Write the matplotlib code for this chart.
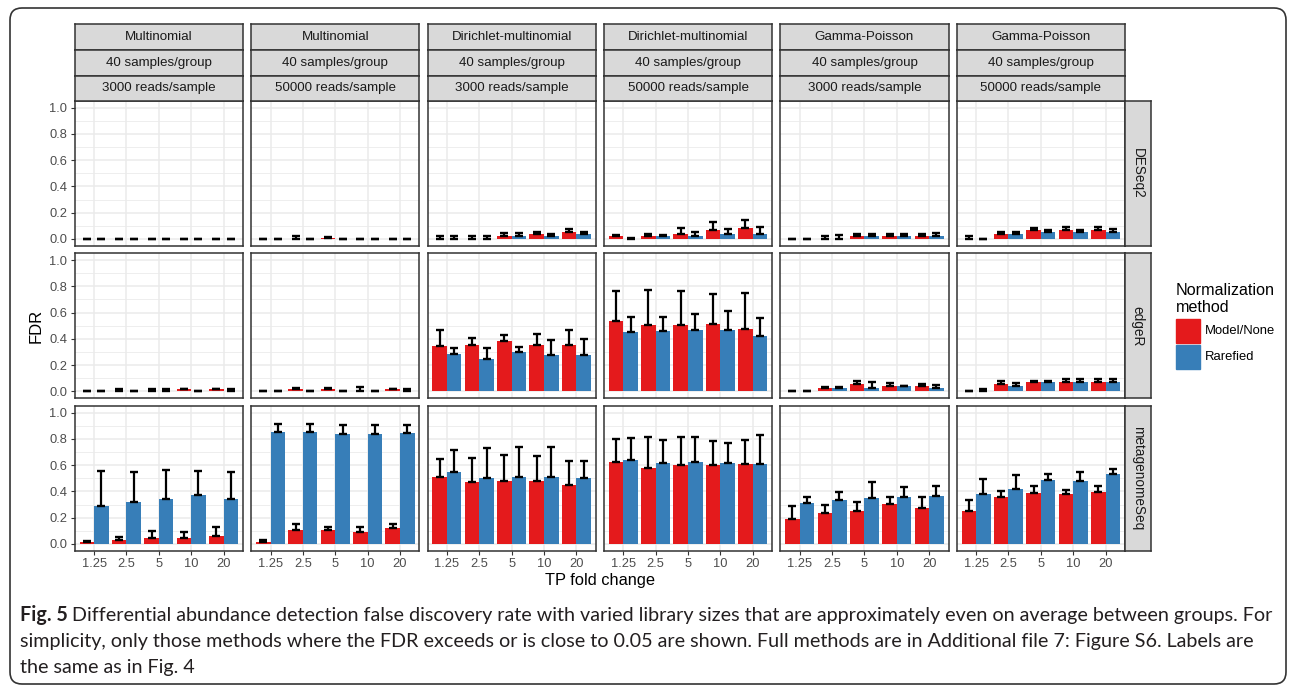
import numpy as np
import matplotlib
matplotlib.use("Agg")
import matplotlib.pyplot as plt
from matplotlib.patches import Rectangle, FancyBboxPatch

plt.rcParams["font.family"] = ["Liberation Sans", "DejaVu Sans"]

# ---- data ----
fold_changes = ["1.25", "2.5", "5", "10", "20"]
sim_models = ["Multinomial", "Multinomial", "Dirichlet-multinomial",
              "Dirichlet-multinomial", "Gamma-Poisson", "Gamma-Poisson"]
sample_sizes = ["40 samples/group"] * 6
read_depths = ["3000 reads/sample", "50000 reads/sample"] * 3
methods = ["DESeq2", "edgeR", "metagenomeSeq"]
norm_methods = ["Model/None", "Rarefied"]
norm_colors = ["#E41A1C", "#377EB8"]

# mean FDR and top of error bar (mean + sd), one list per panel column
deseq2_model_fdr = [[0, 0, 0, 0, 0], [0, 0.002, 0.005, 0, 0],
                    [0.002, 0.002, 0.02, 0.035, 0.05], [0.02, 0.02, 0.035, 0.066, 0.081],
                    [0, 0.002, 0.02, 0.02, 0.02], [0.002, 0.035, 0.066, 0.066, 0.066]]
deseq2_model_top = [[0.003] * 5, [0.003, 0.02, 0.012, 0.003, 0.003],
                    [0.025, 0.025, 0.045, 0.053, 0.076], [0.028, 0.04, 0.086, 0.131, 0.146],
                    [0.003, 0.025, 0.04, 0.04, 0.04], [0.025, 0.056, 0.086, 0.088, 0.088]]
deseq2_rare_fdr = [[0] * 5, [0] * 5,
                   [0.002, 0.002, 0.02, 0.02, 0.035], [0, 0.02, 0.02, 0.035, 0.035],
                   [0, 0.002, 0.02, 0.02, 0.02], [0, 0.035, 0.05, 0.05, 0.05]]
deseq2_rare_top = [[0.003] * 5, [0.003] * 5,
                   [0.025, 0.025, 0.045, 0.04, 0.053], [0.01, 0.033, 0.056, 0.078, 0.093],
                   [0.003, 0.03, 0.04, 0.04, 0.045], [0.003, 0.056, 0.071, 0.071, 0.076]]

edger_model_fdr = [[0, 0.001, 0.001, 0.02, 0.02], [0, 0.02, 0.02, 0.002, 0.02],
                   [0.344, 0.351, 0.382, 0.351, 0.351], [0.534, 0.504, 0.504, 0.511, 0.473],
                   [0, 0.023, 0.053, 0.038, 0.038], [0, 0.053, 0.069, 0.069, 0.069]]
edger_model_top = [[0.003, 0.02, 0.02, 0.022, 0.022], [0.003, 0.025, 0.025, 0.03, 0.022],
                   [0.468, 0.407, 0.43, 0.438, 0.468], [0.766, 0.774, 0.766, 0.743, 0.751],
                   [0.003, 0.036, 0.079, 0.064, 0.058], [0.003, 0.079, 0.079, 0.094, 0.092]]
edger_rare_fdr = [[0, 0, 0.001, 0, 0.001], [0, 0, 0, 0, 0.002],
                  [0.282, 0.244, 0.298, 0.275, 0.275], [0.45, 0.458, 0.466, 0.466, 0.42],
                  [0, 0.023, 0.023, 0.038, 0.023], [0.002, 0.038, 0.069, 0.069, 0.069]]
edger_rare_top = [[0.003, 0.003, 0.02, 0.003, 0.015], [0.003, 0.003, 0.003, 0.003, 0.02],
                  [0.331, 0.331, 0.338, 0.392, 0.4], [0.567, 0.567, 0.59, 0.613, 0.56],
                  [0.003, 0.036, 0.071, 0.043, 0.05], [0.018, 0.064, 0.079, 0.094, 0.094]]

mgs_model_fdr = [[0.015, 0.03, 0.046, 0.046, 0.061], [0.015, 0.107, 0.107, 0.092, 0.122],
                 [0.506, 0.468, 0.476, 0.476, 0.445], [0.621, 0.575, 0.598, 0.598, 0.606],
                 [0.193, 0.232, 0.247, 0.305, 0.277], [0.254, 0.354, 0.384, 0.382, 0.397]]
mgs_model_top = [[0.025, 0.056, 0.10, 0.092, 0.132], [0.03, 0.148, 0.132, 0.132, 0.148],
                 [0.646, 0.654, 0.677, 0.669, 0.631], [0.799, 0.814, 0.814, 0.784, 0.791],
                 [0.285, 0.293, 0.323, 0.361, 0.361], [0.331, 0.4, 0.438, 0.407, 0.438]]
mgs_rare_fdr = [[0.29, 0.32, 0.343, 0.374, 0.343], [0.855, 0.855, 0.84, 0.84, 0.847],
                [0.545, 0.499, 0.506, 0.506, 0.499], [0.636, 0.613, 0.621, 0.613, 0.606],
                [0.313, 0.338, 0.346, 0.359, 0.366], [0.382, 0.42, 0.489, 0.481, 0.534]]
mgs_rare_top = [[0.552, 0.545, 0.56, 0.552, 0.545], [0.911, 0.911, 0.903, 0.903, 0.903],
                [0.715, 0.73, 0.738, 0.738, 0.631], [0.807, 0.791, 0.814, 0.768, 0.83],
                [0.361, 0.392, 0.471, 0.43, 0.438], [0.491, 0.522, 0.529, 0.545, 0.567]]

caption_bold = "Fig. 5"
caption_lines = [
    "Differential abundance detection false discovery rate with varied library sizes that are approximately even on average between groups. For",
    "simplicity, only those methods where the FDR exceeds or is close to 0.05 are shown. Full methods are in Additional file 7: Figure S6. Labels are",
    "the same as in Fig. 4",
]

method_data = {
    "DESeq2": [(deseq2_model_fdr, deseq2_model_top), (deseq2_rare_fdr, deseq2_rare_top)],
    "edgeR": [(edger_model_fdr, edger_model_top), (edger_rare_fdr, edger_rare_top)],
    "metagenomeSeq": [(mgs_model_fdr, mgs_model_top), (mgs_rare_fdr, mgs_rare_top)],
}

# ---- layout (pixels) ----
W, H = 1290, 687
fig = plt.figure(figsize=(W / 100, H / 100), dpi=100)


def add_px_axes(x0, y0, x1, y1):
    return fig.add_axes([x0 / W, 1 - y1 / H, (x1 - x0) / W, (y1 - y0) / H])


# overlay in pixel coordinates for border, titles, legend, caption
bg = fig.add_axes([0, 0, 1, 1])
bg.set_xlim(0, W)
bg.set_ylim(H, 0)
bg.axis("off")
bg.add_patch(FancyBboxPatch((10, 8), 1276, 676, boxstyle="round,pad=0,rounding_size=12",
                            fill=False, ec="#333333", lw=1.2))

col_left, panel_w, col_step = 74.7, 168.3, 176.4
row_top, panel_h, row_step = 101, 144.5, 152.5
strip_edges = [24.3, 50, 76, 101]
strip_col = "#D9D9D9"
dark = "#333333"

x = np.arange(1, len(fold_changes) + 1)
bw = 0.45

for r, m in enumerate(methods):
    y0 = row_top + r * row_step
    for c in range(6):
        x0 = col_left + c * col_step
        ax = add_px_axes(x0, y0, x0 + panel_w, y0 + panel_h)
        for k, (fdr, top) in enumerate(method_data[m]):
            xs = x + (k - 0.5) * bw
            means = np.array(fdr[c])
            ups = np.array(top[c]) - means
            ax.bar(xs, means, width=bw, color=norm_colors[k], zorder=2)
            ax.errorbar(xs, means, yerr=[np.zeros_like(means), ups], fmt="none",
                        ecolor="black", elinewidth=1.6, capsize=3.2, capthick=1.7, zorder=3)
        ax.set_xlim(0.4, 5.6)
        ax.set_ylim(-0.05, 1.05)
        ax.set_yticks([0, 0.2, 0.4, 0.6, 0.8, 1.0])
        ax.set_yticks([0.1, 0.3, 0.5, 0.7, 0.9], minor=True)
        ax.set_xticks(x)
        ax.grid(which="major", color="#EBEBEB", lw=1.1)
        ax.grid(which="minor", axis="y", color="#EBEBEB", lw=0.6)
        ax.set_axisbelow(True)
        for s in ax.spines.values():
            s.set_color(dark)
            s.set_linewidth(1.1)
        ax.tick_params(which="minor", length=0)
        ax.tick_params(which="major", length=3, width=0.8, color=dark,
                       labelsize=9.3, labelcolor="#4D4D4D", pad=2.5)
        if c == 0:
            ax.set_yticklabels(["0.0", "0.2", "0.4", "0.6", "0.8", "1.0"])
        else:
            ax.tick_params(axis="y", length=0, labelleft=False)
        if r == len(methods) - 1:
            ax.set_xticklabels(fold_changes)
        else:
            ax.tick_params(axis="x", length=0, labelbottom=False)

        # top strips
        if r == 0:
            labels = [sim_models[c], sample_sizes[c], read_depths[c]]
            for j, lab in enumerate(labels):
                sax = add_px_axes(x0, strip_edges[j], x0 + panel_w, strip_edges[j + 1])
                sax.set_facecolor(strip_col)
                sax.set_xticks([])
                sax.set_yticks([])
                for s in sax.spines.values():
                    s.set_color(dark)
                    s.set_linewidth(1.1)
                sax.text(0.5, 0.5, lab, ha="center", va="center", fontsize=9.6,
                         color="#1A1A1A", transform=sax.transAxes)

    # right strip
    sx0 = col_left + 5 * col_step + panel_w
    sax = add_px_axes(sx0, y0, sx0 + 25.5, y0 + panel_h)
    sax.set_facecolor(strip_col)
    sax.set_xticks([])
    sax.set_yticks([])
    for s in sax.spines.values():
        s.set_color(dark)
        s.set_linewidth(1.1)
    sax.text(0.5, 0.5, m, ha="center", va="center", fontsize=9.8, rotation=270,
             color="#1A1A1A", transform=sax.transAxes)

# axis titles
bg.text(36, 325.5, "FDR", rotation=90, ha="center", va="center", fontsize=12)
bg.text(600, 581, "TP fold change", ha="center", va="center", fontsize=11.8)

# legend
bg.text(1176, 295, "Normalization", ha="left", va="baseline", fontsize=11.6)
bg.text(1176, 311.5, "method", ha="left", va="baseline", fontsize=11.6)
key_tops = [319, 345]
for k, lab in enumerate(norm_methods):
    bg.add_patch(Rectangle((1176, key_tops[k]), 24, 23.5, color=norm_colors[k]))
    bg.text(1205, key_tops[k] + 12, lab, ha="left", va="center", fontsize=9.4)

# caption, fitted to the measured line width
renderer = fig.canvas.get_renderer()
cap_font = ["Lato", "DejaVu Sans"]
probe = bg.text(0, 0, caption_lines[0], fontsize=14, family=cap_font)
wpx = probe.get_window_extent(renderer).width
probe.remove()
cap_size = 14 * 1207 / wpx
cap_y = [615, 641.5, 668]
t = bg.text(20, cap_y[0], caption_bold, fontsize=cap_size, fontweight="bold",
            family=cap_font, va="center", color="#231F20")
bx = t.get_window_extent(renderer).x1
bg.text(bx + 4, cap_y[0], caption_lines[0], fontsize=cap_size, family=cap_font,
        va="center", color="#231F20")
for line, yy in zip(caption_lines[1:], cap_y[1:]):
    bg.text(20, yy, line, fontsize=cap_size, family=cap_font, va="center", color="#231F20")

fig.savefig("out.png", dpi=100)
